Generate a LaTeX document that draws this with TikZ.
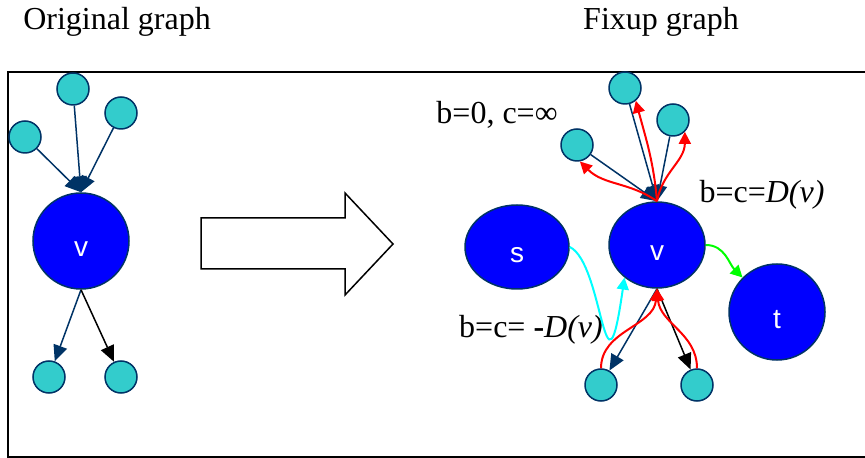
\documentclass[tikz,border=0pt]{standalone}
\usepackage{fontspec}
\setmainfont{Liberation Serif}
\newfontfamily\hubfont{Liberation Sans}
\usepackage{xcolor}
\definecolor{EdgeNavy}{HTML}{003366}
\definecolor{LeafCyan}{HTML}{33CCCC}
\definecolor{HubBlue}{HTML}{0000FF}
\definecolor{FixRed}{HTML}{FF0000}
\definecolor{FixGreen}{HTML}{00FF00}
\definecolor{FixCyan}{HTML}{00FFFF}
\usetikzlibrary{arrows.meta,shapes.geometric}

\begin{document}
\begin{tikzpicture}[
  x=0.5pt,y=-0.5pt,
  >=Latex,
  leaf/.style={circle,draw=EdgeNavy,line width=0.75pt,fill=LeafCyan,minimum size=16pt,inner sep=0pt},
  hub/.style={ellipse,draw=EdgeNavy,line width=0.75pt,fill=HubBlue,inner sep=0pt},
  hubtext/.style={font=\hubfont\fontsize{14}{16}\selectfont,text=white,yshift=-4pt},
  note/.style={font=\fontsize{16}{19}\selectfont,inner sep=0pt},
  navyedge/.style={draw=EdgeNavy,line width=0.75pt,-{Triangle[length=8pt,width=7pt]}},
  blackedge/.style={draw=black,line width=0.75pt,-{Triangle[length=8pt,width=7pt]}},
  fixedge/.style={line width=1pt,-{Triangle[length=6pt,width=6pt]}}
]
\useasboundingbox (0,0) rectangle (865,458);
\draw[line width=1pt] (866,72) -- (8,72) -- (8,457) -- (866,457);

\node[note] (origtitle) at (117,22) {Original graph};
\node[note] (fixtitle) at (661,22) {Fixup graph};

\node[leaf] (la) at (25,137) {};
\node[leaf] (lb) at (73,89) {};
\node[leaf] (lc) at (121,113) {};
\node[hub,minimum width=48pt,minimum height=48pt,label={[hubtext]center:v}] (vL) at (81,241) {};
\node[leaf] (ld) at (49,377) {};
\node[leaf] (le) at (121,377) {};

\draw[navyedge] (la) -- (vL.north);
\draw[navyedge] (lb) -- (vL.north);
\draw[navyedge] (lc) -- (vL.north);
\draw[navyedge] (vL.south) -- (ld);
\draw[blackedge] (vL.south) -- (le);

\draw[line width=0.75pt] (201,218) -- (345,218) -- (345,193) -- (393,244) -- (345,295) -- (345,269) -- (201,269) -- cycle;

\node[leaf] (ra) at (577,145) {};
\node[leaf] (rb) at (625,88) {};
\node[leaf] (rc) at (673,120) {};
\node[hub,minimum width=52pt,minimum height=42pt,label={[hubtext]center:s}] (s) at (517,247) {};
\node[hub,minimum width=48pt,minimum height=43pt,label={[hubtext]center:v}] (vR) at (657,245) {};
\node[hub,minimum width=48pt,minimum height=48pt,label={[hubtext]center:t}] (t) at (777,312) {};
\node[leaf] (rd) at (601,385) {};
\node[leaf] (re) at (697,385) {};

\node[note] (infcap) at (497,115) {b=0, c=∞};
\node[note] (demcap) at (762,195) {b=c=\textit{D(v)}};
\node[note] (supcap) at (531,330) {b=c= \textbf{-}\textit{D(v)}};

\draw[navyedge] (ra) -- (vR.north);
\draw[navyedge] (rb) -- (vR.north);
\draw[navyedge] (rc) -- (vR.north);
\draw[fixedge,FixRed] (vR.north) to[out=145,in=-45] (ra.-80);
\draw[fixedge,FixRed] (vR.north) to[out=95,in=-75] (rb.-50);
\draw[fixedge,FixRed] (vR.north) to[out=80,in=-90] (rc.-45);

\draw[navyedge] (vR.south) -- (rd);
\draw[blackedge] (vR.south) -- (re);
\draw[fixedge,FixRed] (rd.north) to[out=90,in=-95] (vR.south);
\draw[fixedge,FixRed] (re.north) to[out=90,in=-85] (vR.south);

\draw[fixedge,FixCyan] (s.east) .. controls +(34,16) and +(-20,140) .. (vR.-135);
\draw[fixedge,FixGreen] (vR.east) to[out=0,in=135] (t.135);
\end{tikzpicture}
\end{document}
